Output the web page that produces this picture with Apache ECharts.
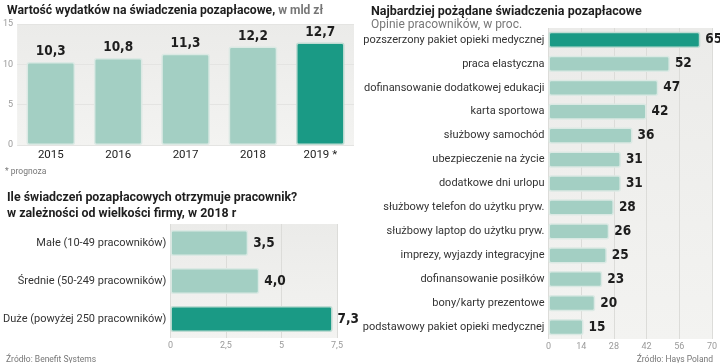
<!DOCTYPE html>
<html><head><meta charset="utf-8">
<script src="https://cdn.jsdelivr.net/npm/echarts@6/dist/echarts.min.js"></script>
<style>html,body{margin:0;padding:0;background:#fff}#c{width:720px;height:363px}</style>
</head><body><div id="c"></div>
<script>
// Chart 1: spending on non-wage benefits, bln zł
const years = ['2015', '2016', '2017', '2018', '2019 *'];
const spending = [10.3, 10.8, 11.3, 12.2, 12.7];
const spendingTicks = [0, 5, 10, 15];
// Chart 2: number of benefits per employee by company size, 2018
const sizes = ['Małe (10-49 pracowników)', 'Średnie (50-249 pracowników)', 'Duże (powyżej 250 pracowników)'];
const benefitsCount = [3.5, 4.0, 7.3];
const countTicks = [0, 2.5, 5, 7.5];
// Chart 3: most desired benefits, % of employees
const desired = ['pozszerzony pakiet opieki medycznej', 'praca elastyczna', 'dofinansowanie dodatkowej edukacji', 'karta sportowa', 'służbowy samochód', 'ubezpieczenie na życie', 'dodatkowe dni urlopu', 'służbowy telefon do użytku pryw.', 'służbowy laptop do użytku pryw.', 'imprezy, wyjazdy integracyjne', 'dofinansowanie posiłków', 'bony/karty prezentowe', 'podstawowy pakiet opieki medycznej'];
const desiredPct = [65, 52, 47, 42, 36, 31, 31, 28, 26, 25, 23, 20, 15];
const pctTicks = [0, 14, 28, 42, 56, 70];

const LIGHT = '#a3cfc3', DARK = '#1a9a85';
const bg = {type:'linear',x:0,y:0,x2:0,y2:1,colorStops:[{offset:0,color:'#ebebe9'},{offset:1,color:'#f3f3f1'}]};
const valFont = {fontFamily:'DejaVu Sans Condensed', fontWeight:'bold', fontSize:13.5, color:'#1e1e1e'};
const catFont = {fontFamily:'Roboto', fontSize:11, color:'#333'};
const tickFont = {fontFamily:'Roboto', fontSize:9, color:'#9a9a9a'};
function items(vals, hiIdx){
  return vals.map((v,i)=>({value:v, itemStyle:{color: i===hiIdx?DARK:LIGHT, borderColor: i===hiIdx?'#bfdcd3':'#dbe9e4'}}));
}
const chart = echarts.init(document.getElementById('c'), null, {renderer:'canvas'});
chart.setOption({
  animation:false,
  title:[
    {left:2, top:0, text:'{b|Wartość wydatków na świadczenia pozapłacowe,}{n| w mld zł}',
     textStyle:{rich:{b:{fontFamily:'Roboto',fontWeight:'bold',fontSize:12.2,color:'#1e1e1e'},n:{fontFamily:'Roboto',fontSize:12,color:'#777'}}}},
    {left:0, top:162, text:'* prognoza', textStyle:{fontFamily:'Roboto',fontSize:8.5,fontWeight:'normal',color:'#777'}},
    {left:2, top:185, text:'Ile świadczeń pozapłacowych otrzymuje pracownik?\nw zależności od wielkości firmy, w 2018 r',
     textStyle:{fontFamily:'Roboto',fontWeight:'bold',fontSize:12.4,lineHeight:16,color:'#1e1e1e'}},
    {left:1, top:350, text:'Źródło: Benefit Systems', textStyle:{fontFamily:'Roboto',fontSize:8.5,fontWeight:'normal',color:'#777'}},
    {left:366, top:0, text:'Najbardziej pożądane świadczenia pozapłacowe',
     textStyle:{fontFamily:'Roboto',fontWeight:'bold',fontSize:12.5,color:'#1e1e1e'},
     subtext:'Opinie pracowników, w proc.', itemGap:1,
     subtextStyle:{fontFamily:'Roboto',fontSize:12,color:'#777'}},
    {right:2, top:350, text:'Źródło: Hays Poland', textStyle:{fontFamily:'Roboto',fontSize:8.5,fontWeight:'normal',color:'#777'}}
  ],
  grid:[
    {left:16, top:24, width:338, height:121, show:true, backgroundColor:bg, borderWidth:0, containLabel:false},
    {left:166, top:224, width:171, height:114, show:true, backgroundColor:bg, borderWidth:0},
    {left:548.5, top:28, width:166.5, height:311, show:true, backgroundColor:bg, borderWidth:0}
  ],
  xAxis:[
    {gridIndex:0, type:'category', data:years, axisLine:{show:false}, axisTick:{show:false},
     axisLabel:Object.assign({margin:4}, catFont, {fontSize:11.5, color:'#222'})},
    {gridIndex:1, type:'value', min:countTicks[0], max:countTicks[countTicks.length-1], interval:2.5,
     axisLine:{show:false}, axisTick:{show:false}, splitLine:{lineStyle:{color:'#dcdcd9'}},
     axisLabel:Object.assign({margin:3, formatter:v=>String(v).replace('.',',')}, tickFont)},
    {gridIndex:2, type:'value', min:pctTicks[0], max:pctTicks[pctTicks.length-1], interval:14,
     axisLine:{show:false}, axisTick:{show:false}, splitLine:{lineStyle:{color:'#dcdcd9'}},
     axisLabel:Object.assign({margin:3}, tickFont)}
  ],
  yAxis:[
    {gridIndex:0, type:'value', min:spendingTicks[0], max:spendingTicks[spendingTicks.length-1], interval:5,
     axisLine:{show:false}, axisTick:{show:false}, splitLine:{lineStyle:{color:'#e4e4e2'}},
     axisLabel:Object.assign({margin:4}, tickFont)},
    {gridIndex:1, type:'category', data:sizes, inverse:true, axisLine:{show:false}, axisTick:{show:false},
     axisLabel:Object.assign({margin:4}, catFont)},
    {gridIndex:2, type:'category', data:desired, inverse:true, axisLine:{show:false}, axisTick:{show:false},
     axisLabel:Object.assign({margin:4}, catFont)}
  ],
  series:[
    {type:'bar', xAxisIndex:0, yAxisIndex:0, data:items(spending,4), barWidth:'72%',
     itemStyle:{borderWidth:1.5, borderRadius:2},
     label:Object.assign({show:true, position:'top', distance:3, formatter:p=>p.value.toFixed(1).replace('.',',')}, valFont)},
    {type:'bar', xAxisIndex:1, yAxisIndex:1, data:items(benefitsCount,2), barWidth:'68%',
     itemStyle:{borderWidth:1.5, borderRadius:2},
     label:Object.assign({show:true, position:'right', distance:5, formatter:p=>p.value.toFixed(1).replace('.',',')}, valFont)},
    {type:'bar', xAxisIndex:2, yAxisIndex:2, data:items(desiredPct,0), barWidth:'68%',
     itemStyle:{borderWidth:1.5, borderRadius:2},
     label:Object.assign({show:true, position:'right', distance:5}, valFont)}
  ]
});
</script></body></html>
